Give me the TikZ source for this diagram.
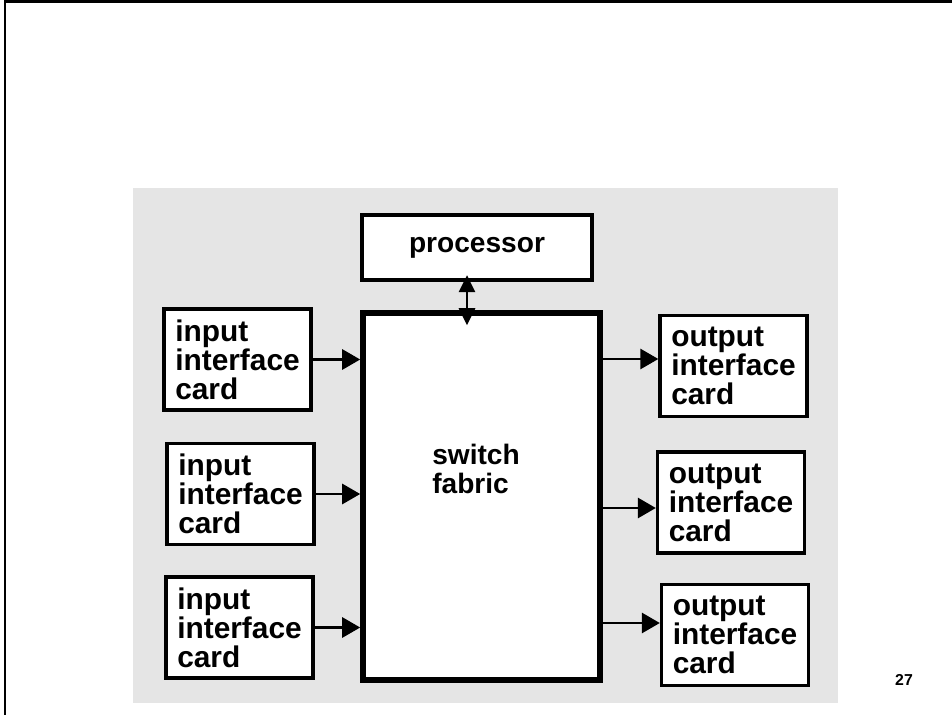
\documentclass[tikz,border=0pt]{standalone}
\usepackage{fontspec}
\setmainfont{Liberation Sans}
\usepackage{tikz}
\usetikzlibrary{arrows.meta,positioning}
\definecolor{panelgray}{RGB}{229,229,229}

\begin{document}
\begin{tikzpicture}[x=0.02cm, y=-0.02cm,
  card/.style={draw, line width=1.9pt, fill=white, align=left, inner sep=0pt,
    minimum width=2.94cm, minimum height=2.02cm,
    font=\fontsize{17}{16.5}\selectfont\bfseries},
  flow/.style={-{Triangle[length=0.36cm,width=0.4cm]}, line width=1.6pt},
  dflow/.style={{Triangle[length=0.34cm,width=0.32cm]}-{Triangle[length=0.34cm,width=0.32cm]}, line width=1.6pt}]
  \useasboundingbox (0,0) rectangle (952,715);
  % page frame, left and top edge only
  \draw[line width=1.7pt] (5,715) -- (5,2) -- (952,2);
  % grey panel behind the router
  \fill[panelgray] (133,188) rectangle (838,703);
  % processor and switch fabric
  \node[card, minimum width=4.6cm, minimum height=1.3cm, line width=2.4pt,
    font=\fontsize{16}{16.5}\selectfont\bfseries] (proc) at (477,247.5) {processor};
  \node[card, minimum width=4.74cm, minimum height=7.34cm, line width=3.2pt] (fabric) at (481.5,496.5) {};
  \node[align=left, font=\fontsize{16}{16.5}\selectfont\bfseries] (fabtxt) at (476,469) {switch\\fabric};
  \draw[dflow, shorten <=-0.14cm, shorten >=-0.3cm] (proc.south -| 467,0) -- (fabric.north -| 467,0);
  % input side
  \foreach \n/\cx/\cy in {in1/237.5/359.5, in2/240.5/494, in3/239.5/627.5}{
    \node[card] (\n) at (\cx,\cy) {input\\interface\\card};
    \draw[flow] (\n) -- (\n -| fabric.west);
  }
  % output side
  \foreach \n/\cx/\cy/\ay in {out1/733.5/366/359, out2/731/502.5/508, out3/735/635/623}{
    \node[card] (\n) at (\cx,\cy) {output\\interface\\card};
    \draw[flow] (fabric.east |- 0,\ay) -- (\n.west |- 0,\ay);
  }
  % slide number
  \node[font=\fontsize{9}{9}\selectfont\bfseries] (pagenum) at (904,680) {27};
\end{tikzpicture}
\end{document}
